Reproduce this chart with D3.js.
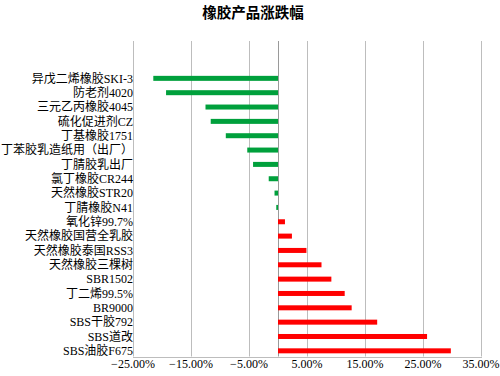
<!DOCTYPE html>
<html>
<head>
<meta charset="utf-8">
<script src="https://cdn.jsdelivr.net/npm/d3@7"></script>
<style>
  body { margin: 0; background: #fff; }
  svg text { font-family: "Liberation Serif", "Noto Sans CJK SC", serif; fill: #000; }
</style>
</head>
<body>
<script>
const width = 500, height = 376;

// categories top -> bottom, two empty slots above the first one
const blanks = ['__b0', '__b1'];
const categories = [
  '异戊二烯橡胶SKI-3', '防老剂4020', '三元乙丙橡胶4045', '硫化促进剂CZ', '丁基橡胶1751',
  '丁苯胶乳造纸用（出厂）', '丁腈胶乳出厂', '氯丁橡胶CR244', '天然橡胶STR20', '丁腈橡胶N41',
  '氧化锌99.7%', '天然橡胶国营全乳胶', '天然橡胶泰国RSS3', '天然橡胶三棵树', 'SBR1502',
  '丁二烯99.5%', 'BR9000', 'SBS干胶792', 'SBS道改', 'SBS油胶F675'
];
const values = [
  -21.5, -19.3, -12.5, -11.6, -9.0,
  -5.3, -4.3, -1.6, -0.6, -0.3,
  1.2, 2.4, 4.9, 7.5, 9.2,
  11.5, 12.7, 17.1, 25.7, 29.8
];
const xTicks = [-25, -15, -5, 5, 15, 25, 35];

const data = categories.map((c, i) => ({ name: c, value: values[i] }));

const plot = { left: 133, right: 481, top: 41, bottom: 356.5 };

const svg = d3.select('body').append('svg')
    .attr('width', width)
    .attr('height', height);

const x = d3.scaleLinear()
    .domain([-25, 35])
    .range([plot.left, plot.right]);

const y = d3.scaleBand()
    .domain(blanks.concat(categories))
    .range([plot.top, plot.bottom]);

// title
svg.append('text')
    .attr('x', 253)
    .attr('y', 18)
    .attr('text-anchor', 'middle')
    .style('font-family', '"Noto Sans CJK SC", sans-serif')
    .style('font-weight', 'bold')
    .style('font-size', '14.5px')
    .text('橡胶产品涨跌幅');

// vertical gridlines
svg.append('g')
  .selectAll('line')
  .data(xTicks)
  .join('line')
    .attr('x1', d => x(d) + 0.5)
    .attr('x2', d => x(d) + 0.5)
    .attr('y1', plot.top)
    .attr('y2', plot.bottom)
    .attr('stroke', '#bdbdbd')
    .attr('stroke-width', 1);

// category axis at zero
svg.append('line')
    .attr('x1', Math.round(x(0)) + 0.5)
    .attr('x2', Math.round(x(0)) + 0.5)
    .attr('y1', plot.top)
    .attr('y2', plot.bottom)
    .attr('stroke', '#9a9a9a');

// bottom axis line
svg.append('line')
    .attr('x1', plot.left)
    .attr('x2', plot.right + 1)
    .attr('y1', Math.round(plot.bottom) + 0.5)
    .attr('y2', Math.round(plot.bottom) + 0.5)
    .attr('stroke', '#bdbdbd');

// bars
const barH = 5;
svg.append('g')
  .selectAll('rect')
  .data(data)
  .join('rect')
    .attr('x', d => x(Math.min(0, d.value)))
    .attr('width', d => Math.abs(x(d.value) - x(0)))
    .attr('y', d => y(d.name) + y.bandwidth() / 2 + 1.5 - barH / 2)
    .attr('height', barH)
    .attr('fill', d => d.value < 0 ? '#00a03c' : '#ff0000');

// category labels
svg.append('g')
  .selectAll('text')
  .data(categories)
  .join('text')
    .attr('x', plot.left)
    .attr('y', d => y(d) + y.bandwidth() / 2 + 1.5)
    .attr('dy', '0.35em')
    .attr('text-anchor', 'end')
    .style('font-size', '12px')
    .text(d => d);

// x tick labels
svg.append('g')
  .selectAll('text')
  .data(xTicks)
  .join('text')
    .attr('x', d => x(d))
    .attr('y', 368)
    .attr('text-anchor', 'middle')
    .style('font-size', '12px')
    .text(d => d3.format('.2f')(d) + '%');
</script>
</body>
</html>
